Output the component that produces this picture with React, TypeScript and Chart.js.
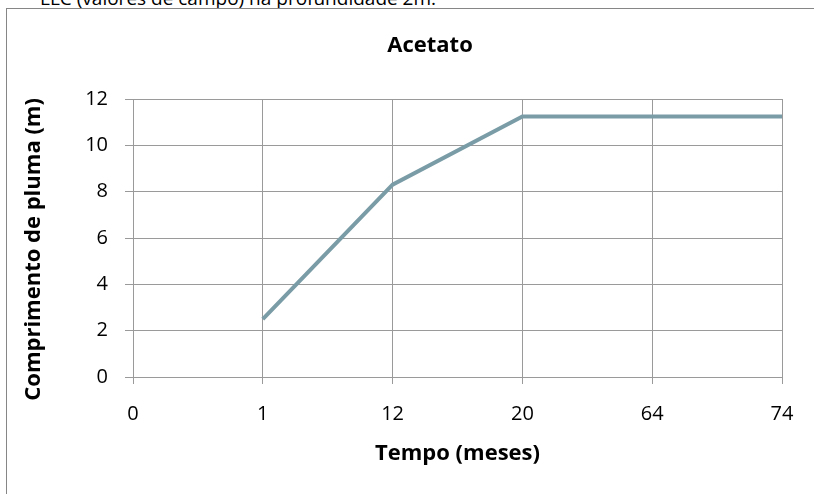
import React, { useEffect, useRef } from "react";
import { Chart, registerables } from "chart.js";

Chart.register(...registerables);

// Tempo (meses) no eixo x, comprimento da pluma (m) no eixo y
const months: string[] = ["0", "1", "12", "20", "64", "74"];
const plumeLength: (number | null)[] = [null, 2.5, 8.3, 11.25, 11.25, 11.25];
const yTicks: number[] = [0, 2, 4, 6, 8, 10, 12];

const FONT = "'Open Sans', 'Noto Sans', sans-serif";
const GRID = "#9a9a9a";

export default function App() {
  const canvasRef = useRef<HTMLCanvasElement | null>(null);

  useEffect(() => {
    const canvas = canvasRef.current;
    if (!canvas) return;
    const chart = new Chart(canvas, {
      type: "line",
      data: {
        labels: months,
        datasets: [
          {
            label: "Acetato",
            data: plumeLength,
            borderColor: "#7a9ca7",
            backgroundColor: "#7a9ca7",
            borderWidth: 4,
            pointRadius: 0,
            tension: 0,
            spanGaps: false,
            yAxisID: "y",
          },
        ],
      },
      options: {
        animation: false,
        responsive: false,
        maintainAspectRatio: false,
        layout: { padding: { left: 0, right: 0, top: 0, bottom: 27 } },
        plugins: {
          legend: { display: false },
          tooltip: { enabled: false },
          title: {
            display: true,
            text: "Acetato",
            color: "#000",
            font: { family: FONT, size: 22, weight: "bold" },
            padding: { top: 24, bottom: 39.6 },
          },
        },
        scales: {
          x: {
            type: "category",
            offset: false,
            grid: {
              color: GRID,
              lineWidth: 1,
              tickLength: 7,
              drawTicks: true,
            },
            border: { color: GRID, width: 1 },
            ticks: {
              color: "#000",
              font: { family: FONT, size: 20 },
              padding: 18,
              maxRotation: 0,
              autoSkip: false,
            },
            title: {
              display: true,
              text: "Tempo (meses)",
              color: "#000",
              font: { family: FONT, size: 22, weight: "bold" },
              padding: 0,
            },
            afterFit: (scale: any) => {
              scale.height = 90;
            },
          },
          y: {
            position: "left",
            min: 0,
            max: 12,
            afterBuildTicks: (scale: any) => {
              scale.ticks = yTicks.map((v) => ({ value: v }));
            },
            grid: {
              color: GRID,
              lineWidth: 1,
              tickLength: 8,
            },
            border: { color: GRID, width: 1 },
            ticks: {
              color: "#000",
              font: { family: FONT, size: 20 },
              padding: 17,
            },
            title: {
              display: true,
              text: "Comprimento de pluma (m)    ",
              color: "#000",
              font: { family: FONT, size: 22, weight: "bold" },
              padding: { top: 14, bottom: 0 },
            },
            afterFit: (scale: any) => {
              scale.width = 126;
            },
          },
          // empty margin on the right of the plot area
          yRight: {
            position: "right",
            min: 0,
            max: 12,
            grid: { display: false },
            border: { display: false },
            ticks: { display: false },
            afterFit: (scale: any) => {
              scale.width = 71;
            },
          },
        },
      },
    });
    return () => chart.destroy();
  }, []);

  return (
    <div
      style={{
        position: "absolute",
        left: 0,
        top: 0,
        width: 814,
        height: 494,
        overflow: "hidden",
        background: "#fff",
      }}
    >
      <div
        style={{
          position: "absolute",
          left: 40,
          top: -15,
          fontFamily: FONT,
          fontSize: 19,
          whiteSpace: "nowrap",
          color: "#000",
        }}
      >
        LLC (valores de campo) na profundidade 2m.
      </div>
      <div
        style={{
          position: "absolute",
          left: 6,
          top: 8,
          width: 900,
          height: 600,
          border: "1px solid #868686",
          boxSizing: "border-box",
        }}
      />
      <canvas
        ref={canvasRef}
        width={846}
        height={485}
        style={{ position: "absolute", left: 7, top: 9, width: 846, height: 485 }}
      />
    </div>
  );
}
